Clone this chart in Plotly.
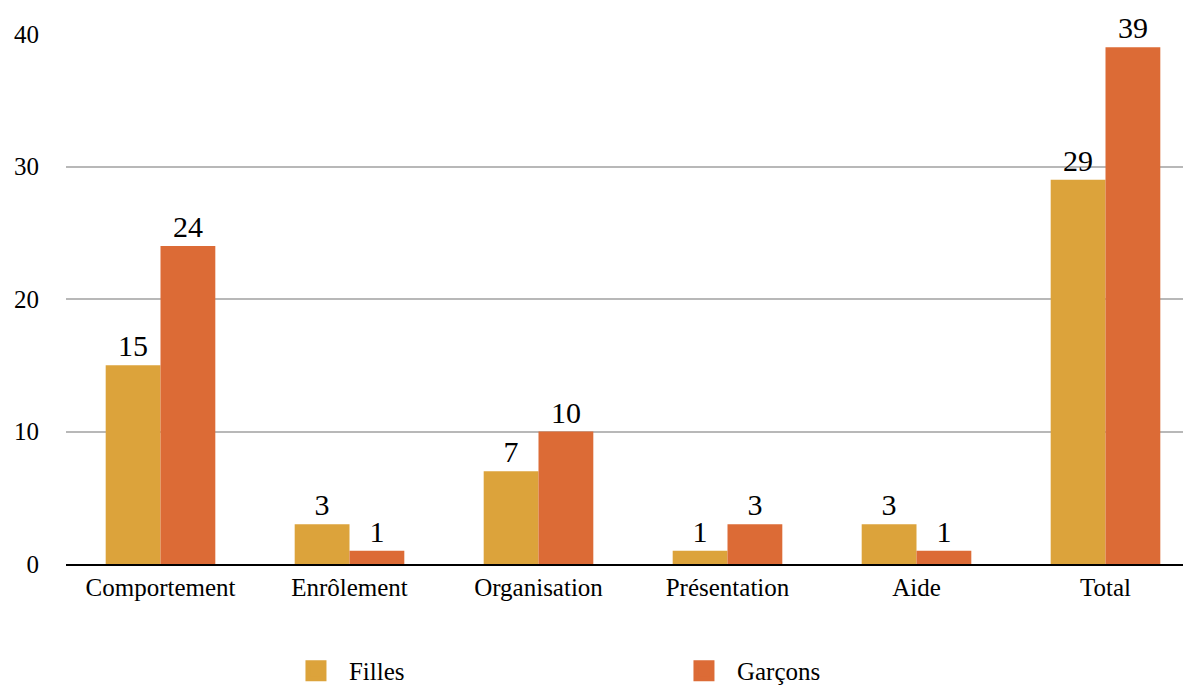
import plotly.graph_objects as go

categories = ["Comportement", "Enrôlement", "Organisation", "Présentation", "Aide", "Total"]
filles = [15, 3, 7, 1, 3, 29]
garcons = [24, 1, 10, 3, 1, 39]
series_names = ["Filles", "Garçons"]
colors = ["#dca33b", "#dc6b36"]
y_ticks = [0, 10, 20, 30, 40]

FONT = "Liberation Serif"

fig = go.Figure()
for name, vals, col in zip(series_names, [filles, garcons], colors):
    fig.add_trace(go.Bar(
        x=categories, y=vals, name=name, marker=dict(color=col, line=dict(width=0)),
        text=[str(v) for v in vals], textposition="outside", cliponaxis=False,
        textfont=dict(family=FONT, size=30, color="#000000"), showlegend=False,
    ))
    fig.add_trace(go.Scatter(
        x=[None], y=[None], mode="markers", name=name,
        marker=dict(symbol="square", size=16, color=col, line=dict(color=col, width=5)),
    ))

fig.update_layout(
    width=1191, height=687,
    margin=dict(l=58, r=0, t=26, b=131),
    paper_bgcolor="white", plot_bgcolor="white",
    barmode="group", bargap=0.42, bargroupgap=0,
    font=dict(family=FONT, size=25, color="#000000"),
    xaxis=dict(range=[-0.5, -0.5 + 1133 / 189], showgrid=False, showline=True,
               linecolor="#000000", linewidth=2, ticks="", tickfont=dict(family=FONT, size=25),
               fixedrange=True, automargin=False),
    yaxis=dict(range=[0, 40], tickvals=y_ticks, showgrid=True, gridcolor="#b8b8b8",
               gridwidth=2, zeroline=False, showline=False, ticks="",
               tickfont=dict(family=FONT, size=25), ticklabelstandoff=26, automargin=False),
    legend=dict(orientation="h", x=0.1915, xanchor="left",
                yref="container", y=0.035, yanchor="middle",
                entrywidth=317, entrywidthmode="pixels", itemwidth=56,
                font=dict(family=FONT, size=25), itemsizing="trace"),
)

fig.write_html("out.html")
